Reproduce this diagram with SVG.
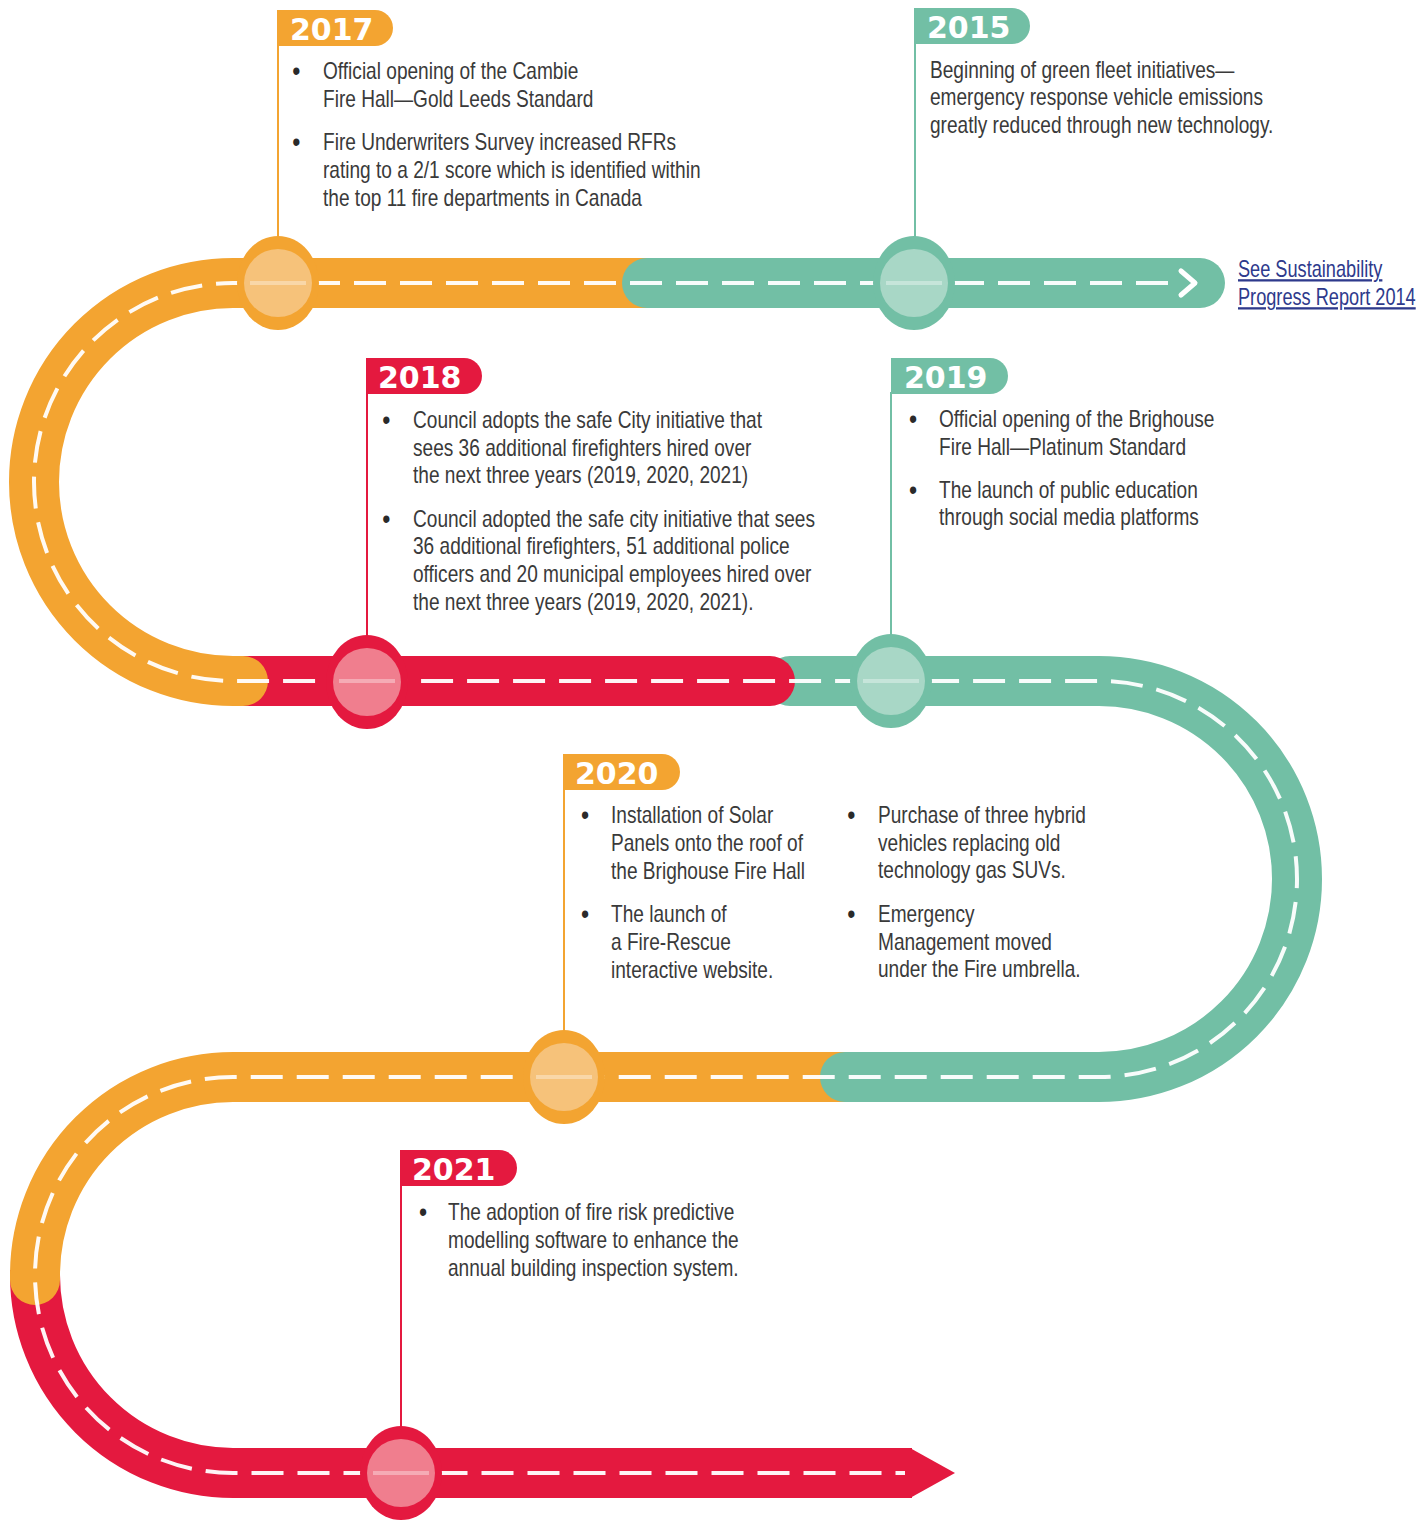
<svg xmlns="http://www.w3.org/2000/svg" width="1422" height="1522" viewBox="0 0 1422 1522">
<style>
.t{font-family:"Liberation Sans",Arial,sans-serif;font-size:23px;fill:#3a3a3a}
.b{font-family:"Liberation Sans",Arial,sans-serif;font-size:28px;fill:#2a2a2a}
.yr{font-family:"DejaVu Sans",sans-serif;font-weight:bold;font-size:30px;fill:#ffffff}
.lk{font-family:"Liberation Sans",Arial,sans-serif;font-size:23px;fill:#2e3a8c;text-decoration:underline}
.road{fill:none;stroke-width:50}
.o{stroke:#f3a431}.g{stroke:#72bfa5}.r{stroke:#e4193f}
.dash{fill:none;stroke:#ffffff;stroke-width:4;stroke-dasharray:32 14;opacity:0.95}
.vl{stroke-width:2;fill:none}
</style>
<rect width="1422" height="1522" fill="#ffffff"/>
<g id="connectors">
  <path class="road r" d="M35 1270 L35 1275 A198 198 0 0 0 233 1473 L912 1473"/>
  <polygon points="910,1448 955,1473 910,1498" fill="#e4193f"/>
  <path class="road o" stroke-linecap="round" d="M845 1077 L233 1077 A198 198 0 0 0 35 1275 L35 1280"/>
  <path class="road g" stroke-linecap="round" d="M845 1077 L1099 1077 A198 198 0 0 0 1099 681 L790 681"/>
  <path class="road r" stroke-linecap="round" d="M240 681 L770 681"/>
  <path class="road o" stroke-linecap="round" d="M647 283 L233 283 A198 198 0 0 0 233 681 L243 681"/>
  <path class="road g" stroke-linecap="round" d="M647 283 L1200 283"/>
  <path class="dash" d="M1168 283 L233 283 A198 198 0 0 0 233 681 L1099 681 A198 198 0 0 1 1099 1077 L233 1077 A198 198 0 0 0 233 1473 L905 1473"/>
  <polyline points="1181,271 1195,283 1181,295" fill="none" stroke="#ffffff" stroke-width="5" stroke-linecap="round" stroke-linejoin="round"/>
  <line class="vl" x1="278" y1="44" x2="278" y2="238" stroke="#f3a431"/>
  <line class="vl" x1="915" y1="42" x2="915" y2="238" stroke="#72bfa5"/>
  <line class="vl" x1="367" y1="392" x2="367" y2="636" stroke="#e4193f"/>
  <line class="vl" x1="891" y1="392" x2="891" y2="636" stroke="#72bfa5"/>
  <line class="vl" x1="564" y1="788" x2="564" y2="1032" stroke="#f3a431"/>
  <line class="vl" x1="401" y1="1184" x2="401" y2="1428" stroke="#e4193f"/>
</g>
<g id="n2017">
  <ellipse cx="278" cy="283" rx="41" ry="47" fill="#f3a431"/>
  <circle cx="278" cy="283" r="34" fill="#f6c27a"/>
  <line x1="250" y1="283" x2="306" y2="283" stroke="#fff" stroke-width="4" opacity="0.35"/>
  <path d="M277 10 H375 A18 18 0 0 1 375 46 H277 Z" fill="#f3a431"/>
  <text class="yr" x="290" y="40">2017</text>
  <g transform="translate(323 0) scale(0.83 1)">
    <text class="b" x="-37" y="80">•</text>
    <text class="t" x="0" y="79">Official opening of the Cambie</text>
    <text class="t" x="0" y="107">Fire Hall—Gold Leeds Standard</text>
    <text class="b" x="-37" y="151">•</text>
    <text class="t" x="0" y="150">Fire Underwriters Survey increased RFRs</text>
    <text class="t" x="0" y="178">rating to a 2/1 score which is identified within</text>
    <text class="t" x="0" y="206">the top 11 fire departments in Canada</text>
  </g>
</g>
<g id="n2015">
  <ellipse cx="914" cy="283" rx="41" ry="47" fill="#72bfa5"/>
  <circle cx="914" cy="283" r="34" fill="#a8d7c6"/>
  <line x1="886" y1="283" x2="942" y2="283" stroke="#fff" stroke-width="4" opacity="0.35"/>
  <path d="M914 8 H1012 A18 18 0 0 1 1012 44 H914 Z" fill="#72bfa5"/>
  <text class="yr" x="927" y="38">2015</text>
  <g transform="translate(930 0) scale(0.83 1)">
    <text class="t" x="0" y="78">Beginning of green fleet initiatives—</text>
    <text class="t" x="0" y="105">emergency response vehicle emissions</text>
    <text class="t" x="0" y="133">greatly reduced through new technology.</text>
  </g>
</g>
<g id="link" transform="translate(1238 0) scale(0.79 1)">
  <text class="lk" x="0" y="277">See Sustainability</text>
  <text class="lk" x="0" y="305">Progress Report 2014</text>
</g>
<g id="n2018">
  <ellipse cx="367" cy="682" rx="41" ry="47" fill="#e4193f"/>
  <circle cx="367" cy="682" r="34" fill="#f07e8e"/>
  <line x1="339" y1="681" x2="395" y2="681" stroke="#fff" stroke-width="4" opacity="0.35"/>
  <path d="M366 358 H464 A18 18 0 0 1 464 394 H366 Z" fill="#e4193f"/>
  <text class="yr" x="378" y="388">2018</text>
  <g transform="translate(413 0) scale(0.83 1)">
    <text class="b" x="-37" y="429">•</text>
    <text class="t" x="0" y="428">Council adopts the safe City initiative that</text>
    <text class="t" x="0" y="456">sees 36 additional firefighters hired over</text>
    <text class="t" x="0" y="483">the next three years (2019, 2020, 2021)</text>
    <text class="b" x="-37" y="528">•</text>
    <text class="t" x="0" y="527">Council adopted the safe city initiative that sees</text>
    <text class="t" x="0" y="554">36 additional firefighters, 51 additional police</text>
    <text class="t" x="0" y="582">officers and 20 municipal employees hired over</text>
    <text class="t" x="0" y="610">the next three years (2019, 2020, 2021).</text>
  </g>
</g>
<g id="n2019">
  <ellipse cx="891" cy="681" rx="41" ry="47" fill="#72bfa5"/>
  <circle cx="891" cy="681" r="34" fill="#a8d7c6"/>
  <line x1="863" y1="681" x2="919" y2="681" stroke="#fff" stroke-width="4" opacity="0.35"/>
  <path d="M891 358 H990 A18 18 0 0 1 990 394 H891 Z" fill="#72bfa5"/>
  <text class="yr" x="904" y="388">2019</text>
  <g transform="translate(939 0) scale(0.83 1)">
    <text class="b" x="-36" y="428">•</text>
    <text class="t" x="0" y="427">Official opening of the Brighouse</text>
    <text class="t" x="0" y="455">Fire Hall—Platinum Standard</text>
    <text class="b" x="-36" y="499">•</text>
    <text class="t" x="0" y="498">The launch of public education</text>
    <text class="t" x="0" y="525">through social media platforms</text>
  </g>
</g>
<g id="n2020">
  <ellipse cx="564" cy="1077" rx="41" ry="47" fill="#f3a431"/>
  <circle cx="564" cy="1077" r="34" fill="#f6c27a"/>
  <line x1="536" y1="1077" x2="592" y2="1077" stroke="#fff" stroke-width="4" opacity="0.35"/>
  <path d="M563 754 H662 A18 18 0 0 1 662 790 H563 Z" fill="#f3a431"/>
  <text class="yr" x="575" y="784">2020</text>
  <g transform="translate(611 0) scale(0.83 1)">
    <text class="b" x="-36" y="824">•</text>
    <text class="t" x="0" y="823">Installation of Solar</text>
    <text class="t" x="0" y="851">Panels onto the roof of</text>
    <text class="t" x="0" y="879">the Brighouse Fire Hall</text>
    <text class="b" x="-36" y="923">•</text>
    <text class="t" x="0" y="922">The launch of</text>
    <text class="t" x="0" y="950">a Fire-Rescue</text>
    <text class="t" x="0" y="978">interactive website.</text>
  </g>
  <g transform="translate(878 0) scale(0.83 1)">
    <text class="b" x="-37" y="824">•</text>
    <text class="t" x="0" y="823">Purchase of three hybrid</text>
    <text class="t" x="0" y="851">vehicles replacing old</text>
    <text class="t" x="0" y="878">technology gas SUVs.</text>
    <text class="b" x="-37" y="923">•</text>
    <text class="t" x="0" y="922">Emergency</text>
    <text class="t" x="0" y="950">Management moved</text>
    <text class="t" x="0" y="977">under the Fire umbrella.</text>
  </g>
</g>
<g id="n2021">
  <ellipse cx="401" cy="1473" rx="41" ry="47" fill="#e4193f"/>
  <circle cx="401" cy="1473" r="34" fill="#f07e8e"/>
  <line x1="373" y1="1473" x2="429" y2="1473" stroke="#fff" stroke-width="4" opacity="0.35"/>
  <path d="M400 1150 H499 A18 18 0 0 1 499 1186 H400 Z" fill="#e4193f"/>
  <text class="yr" x="412" y="1180">2021</text>
  <g transform="translate(448 0) scale(0.83 1)">
    <text class="b" x="-35" y="1221">•</text>
    <text class="t" x="0" y="1220">The adoption of fire risk predictive</text>
    <text class="t" x="0" y="1248">modelling software to enhance the</text>
    <text class="t" x="0" y="1276">annual building inspection system.</text>
  </g>
</g>
</svg>
